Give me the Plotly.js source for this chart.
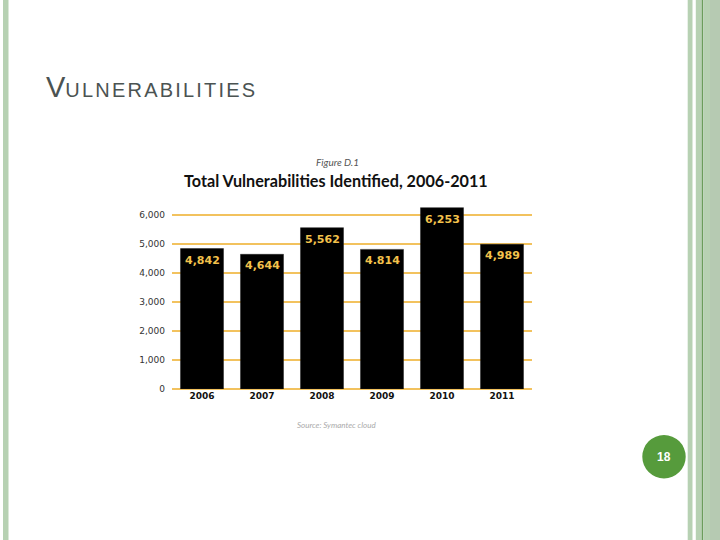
<!DOCTYPE html>
<html>
<head>
<meta charset="utf-8">
<script src="https://cdn.plot.ly/plotly-3.0.1.min.js"></script>
<style>html,body{margin:0;padding:0;background:#fff;}#chart{width:720px;height:540px;}</style>
</head>
<body>
<div id="chart"></div>
<script>
// Data
const years = ["2006", "2007", "2008", "2009", "2010", "2011"];
const vulnerabilities = [4842, 4644, 5562, 4814, 6253, 4989];
const valueLabels = ["4,842", "4,644", "5,562", "4.814", "6,253", "4,989"];
const yTicks = [0, 1000, 2000, 3000, 4000, 5000, 6000];
const yTickLabels = ["0", "1,000", "2,000", "3,000", "4,000", "5,000", "6,000"];

// Layout geometry (pixels)
const W = 720, H = 540;
const yMax = 6551.724;
const plotL = 172, plotR = 532, plotB = 389, plotT = 199;
const px = v => (v - plotL) / (plotR - plotL);
const py = v => (plotB - v) / (plotB - plotT);

const stripe = (x0, x1, color) => ({type: 'rect', xref: 'paper', yref: 'paper', layer: 'below',
  x0: px(x0), x1: px(x1), y0: py(H), y1: py(0), fillcolor: color, line: {width: 0}});

const shapes = [
  stripe(3, 8.5, '#b7d1b3'),
  stripe(687.7, 692.5, '#b7d1b3'),
  stripe(695.8, 701.7, '#b7d1b3'),
  stripe(701.7, 703.2, '#6b9d5c'),
  stripe(703.2, 710, '#b7d1b3'),
  stripe(710, 720, '#b6cab2'),
  {type: 'circle', xref: 'paper', yref: 'paper', layer: 'above',
   x0: px(642.3), x1: px(685.7), y0: py(478.4), y1: py(435), fillcolor: '#569b3c', line: {width: 0}}
];

// value labels placed on each bar via the axes (category index, bar value)
const valueAnnotations = years.map((yr, i) => ({
  xref: 'x', yref: 'y', x: i, y: vulnerabilities[i], yshift: -11.5,
  xanchor: 'center', yanchor: 'middle', showarrow: false,
  text: '<b>' + valueLabels[i] + '</b>',
  font: {family: 'DejaVu Sans', size: 11, color: '#f3c24c'}
}));

const annotations = [
  {xref: 'paper', yref: 'paper', x: px(44), y: py(105), xanchor: 'left', yanchor: 'bottom', showarrow: false,
   text: '<span style="font-size:29px">V</span><span style="letter-spacing:2.2px">ULNERABILITIES</span>',
   font: {family: 'Liberation Sans, Arial', size: 20, color: '#4b5352'}},
  {xref: 'paper', yref: 'paper', x: px(337), y: py(162), xanchor: 'center', yanchor: 'middle', showarrow: false,
   text: '<i>Figure D.1</i>', font: {family: 'Lato, Open Sans', size: 10, color: '#555'}},
  {xref: 'paper', yref: 'paper', x: px(336), y: py(180.5), xanchor: 'center', yanchor: 'middle', showarrow: false,
   text: '<b>Total Vulnerabilities Identified, 2006-2011</b>', font: {family: 'Lato, Open Sans', size: 16.2, color: '#111'}},
  {xref: 'paper', yref: 'paper', x: px(336), y: py(425), xanchor: 'center', yanchor: 'middle', showarrow: false,
   text: '<i>Source: Symantec cloud</i>', font: {family: 'Lato, Open Sans', size: 8, color: '#aaa'}},
  {xref: 'paper', yref: 'paper', x: px(664), y: py(456.7), xanchor: 'center', yanchor: 'middle', showarrow: false,
   text: '<b>18</b>', font: {family: 'Liberation Sans, Arial', size: 12, color: '#ffffff'}}
].concat(valueAnnotations);

const trace = {
  type: 'bar',
  x: years,
  y: vulnerabilities,
  marker: {color: '#000000', line: {color: '#222', width: 0.5}},
  hoverinfo: 'none'
};

const layout = {
  width: W, height: H,
  margin: {l: plotL, r: W - plotR, t: plotT, b: H - plotB, pad: 0},
  paper_bgcolor: '#ffffff',
  plot_bgcolor: '#ffffff',
  showlegend: false,
  bargap: 0.283,
  xaxis: {
    type: 'category', range: [-0.5, 5.5], showgrid: false, zeroline: false, showline: false,
    ticks: '', tickfont: {family: 'DejaVu Sans', size: 9, color: '#111', weight: 'bold'}, fixedrange: true
  },
  yaxis: {
    range: [0, yMax], tickvals: yTicks, ticktext: yTickLabels, showgrid: true, gridcolor: '#f2c25e', gridwidth: 1.3,
    zeroline: true, zerolinecolor: '#f2c25e', zerolinewidth: 1.3, showline: false, ticks: '',
    ticklabelstandoff: 6,
    tickfont: {family: 'DejaVu Sans', size: 9, color: '#333'}, fixedrange: true
  },
  shapes: shapes,
  annotations: annotations
};

Plotly.newPlot('chart', [trace], layout, {displayModeBar: false, staticPlot: true});
</script>
</body>
</html>
